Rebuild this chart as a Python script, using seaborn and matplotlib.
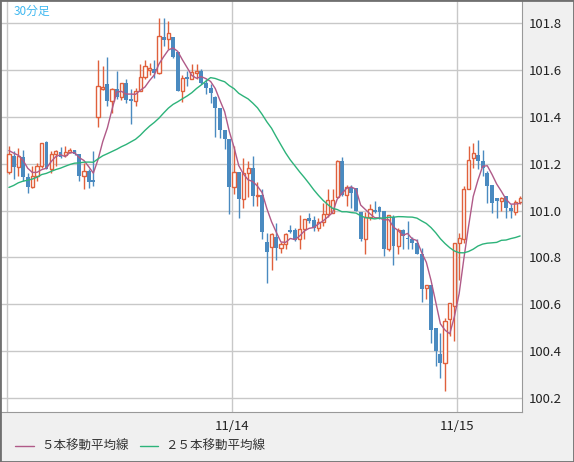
import matplotlib
matplotlib.use("Agg")
import matplotlib.pyplot as plt
import seaborn as sns
import numpy as np
import pandas as pd

# 30-minute OHLC bars
opens = [101.165,101.233,101.186,101.23,101.145,101.10,101.148,101.19,101.294,101.176,
         101.24,101.25,101.235,101.25,101.26,101.243,101.148,101.17,101.13,101.40,
         101.519,101.538,101.467,101.517,101.485,101.545,101.474,101.467,101.512,101.57,
         101.60,101.605,101.585,101.74,101.73,101.74,101.675,101.51,101.57,101.563,
         101.585,101.597,101.545,101.524,101.484,101.438,101.342,101.304,101.10,101.166,
         101.048,101.162,101.18,101.063,101.067,100.868,100.846,100.886,100.839,100.856,
         100.917,100.917,100.877,100.92,100.97,100.958,100.926,100.95,100.987,100.99,
         101.058,101.21,101.068,101.10,101.096,100.993,100.88,100.973,101.004,101.014,
         100.997,100.834,100.973,100.848,100.917,100.884,100.877,100.862,100.813,100.668,
         100.682,100.50,100.388,100.348,100.537,100.593,100.863,100.877,101.092,101.224,
         101.238,101.213,101.16,101.11,101.054,101.04,101.061,101.01,100.994,101.036]
closes = [101.24,101.186,101.233,101.145,101.10,101.148,101.19,101.29,101.176,101.24,
          101.255,101.23,101.25,101.26,101.24,101.148,101.17,101.12,101.12,101.53,
          101.528,101.467,101.517,101.485,101.545,101.47,101.467,101.512,101.57,101.615,
          101.61,101.585,101.746,101.726,101.757,101.655,101.51,101.566,101.56,101.59,
          101.595,101.545,101.524,101.50,101.438,101.342,101.304,101.10,101.166,101.048,
          101.162,101.18,101.063,101.067,100.908,100.824,100.90,100.842,100.856,100.90,
          100.908,100.874,100.922,100.962,100.955,100.926,100.95,100.987,101.047,101.047,
          101.213,101.068,101.10,101.075,100.998,100.877,100.973,101.007,100.993,100.993,
          100.834,100.979,100.848,100.919,100.89,100.877,100.862,100.813,100.664,100.682,
          100.491,100.40,100.348,100.529,100.605,100.863,100.884,101.092,101.217,101.245,
          101.21,101.18,101.104,101.033,101.04,101.054,101.01,101.0,101.036,101.054]
highs = [101.275,101.254,101.268,101.26,101.162,101.19,101.204,101.29,101.297,101.254,
         101.26,101.27,101.275,101.268,101.26,101.243,101.204,101.176,101.254,101.64,
         101.616,101.655,101.524,101.594,101.545,101.56,101.517,101.524,101.623,101.64,
         101.63,101.644,101.82,101.82,101.81,101.74,101.675,101.58,101.594,101.627,
         101.623,101.604,101.56,101.538,101.488,101.438,101.342,101.304,101.275,101.166,
         101.226,101.21,101.233,101.12,101.09,100.904,100.904,100.947,100.868,100.905,
         100.94,100.927,100.983,100.962,100.99,100.976,100.97,101.033,101.09,101.09,
         101.217,101.23,101.107,101.107,101.096,100.993,100.993,101.026,101.04,101.018,
         100.997,100.983,100.983,100.926,100.922,100.955,100.887,100.88,100.841,100.682,
         100.682,100.50,100.476,100.543,100.605,100.863,100.905,101.104,101.274,101.29,
         101.30,101.26,101.167,101.11,101.054,101.06,101.064,101.026,101.047,101.064]
lows = [101.155,101.134,101.148,101.126,101.077,101.098,101.126,101.18,101.176,101.16,
        101.19,101.225,101.23,101.245,101.235,101.126,101.09,101.098,101.105,101.356,
        101.516,101.445,101.417,101.474,101.47,101.46,101.368,101.448,101.51,101.56,
        101.58,101.566,101.583,101.70,101.687,101.65,101.51,101.462,101.53,101.559,
        101.56,101.538,101.495,101.46,101.315,101.31,101.264,100.985,101.07,100.97,
        101.01,101.06,101.02,101.02,100.88,100.69,100.745,100.788,100.817,100.834,
        100.905,100.87,100.837,100.877,100.948,100.912,100.912,100.933,100.973,100.99,
        101.058,101.064,101.02,101.01,100.998,100.87,100.813,100.96,100.99,100.962,
        100.806,100.827,100.766,100.813,100.834,100.834,100.834,100.813,100.612,100.621,
        100.434,100.338,100.288,100.232,100.466,100.443,100.706,100.863,101.09,101.18,
        101.177,101.146,101.033,100.99,100.97,101.0,100.97,100.97,100.98,101.026]
# closes before the visible window (needed for the moving averages)
prior_closes = [100.98,100.95,100.97,101.0,101.02,100.99,101.01,101.05,101.03,101.06,101.08,101.05,
                101.07,101.1,101.12,101.09,101.11,101.14,101.17,101.2,101.24,101.28,101.25,101.27]
day_labels = ["", "11/14", "11/15"]  # 11/13 line is at the very left edge, label not shown
yticks = [100.2, 100.4, 100.6, 100.8, 101.0, 101.2, 101.4, 101.6, 101.8]

n = len(closes)
allc = pd.Series(prior_closes + closes)
ma5 = allc.rolling(5).mean().iloc[len(prior_closes):].to_numpy()
ma25 = allc.rolling(25).mean().iloc[len(prior_closes):].to_numpy()
df = pd.DataFrame({"i": np.arange(n), "o": opens, "c": closes, "h": highs, "l": lows,
                   "ma5": ma5, "ma25": ma25})

sns.set_style("white")
plt.rcParams["font.family"] = ["Noto Sans CJK JP", "DejaVu Sans"]

red = "#e0603c"
blue = "#4a8ac0"
c5 = "#b05a88"
c25 = "#2db37a"

fig = plt.figure(figsize=(5.74, 4.62), dpi=100, facecolor="#f0f0f0")
ax = fig.add_axes([0, 50/462, 522/574, 412/462])
ax.set_facecolor("white")

up = df[df.c >= df.o]
dn = df[df.c < df.o]
ax.vlines(df.i, df.l, df.h, color=[red if c >= o else blue for o, c in zip(df.o, df.c)],
          lw=1, zorder=3)
ax.bar(dn.i, dn.o - dn.c, bottom=dn.c, width=0.82, color=blue, lw=0, zorder=4)
ax.bar(up.i, np.maximum(up.c - up.o, 0.004), bottom=up.o, width=0.68, facecolor="white",
       edgecolor=red, lw=1, zorder=4)

sns.lineplot(data=df, x="i", y="ma5", ax=ax, color=c5, lw=1, zorder=5)
sns.lineplot(data=df, x="i", y="ma25", ax=ax, color=c25, lw=1, zorder=5)

ax.set_xlim(-1.9, 109.4)
ax.set_ylim(100.141, 101.898)
ax.set_xticks([-0.45 + 48 * k for k in range(3)])
ax.set_xticklabels(day_labels)
ax.set_yticks(yticks)
ax.set_yticklabels([f"{v:.1f}" for v in yticks])
ax.yaxis.tick_right()
ax.tick_params(axis="both", length=0, labelsize=9.5, colors="#222222", pad=5)
ax.tick_params(axis="x", pad=6)
ax.grid(True, color="#c8c8c8", lw=1)
ax.set_axisbelow(True)
ax.set_xlabel("")
ax.set_ylabel("")
for s in ["left", "top"]:
    ax.spines[s].set_visible(False)
for s in ["right", "bottom"]:
    ax.spines[s].set_color("#999999")

ax.text(14/522, 1 - 11/412, "30分足", transform=ax.transAxes, color="#40b8f0",
        fontsize=8.5, va="center")

# legend at the bottom
fig.lines.append(plt.Line2D([15/574, 34/574], [1 - 446/462] * 2, color=c5, lw=1,
                            transform=fig.transFigure))
fig.text(41/574, 1 - 446/462, "５本移動平均線", fontsize=9, va="center", color="#333333")
fig.lines.append(plt.Line2D([140/574, 158/574], [1 - 446/462] * 2, color=c25, lw=1,
                            transform=fig.transFigure))
fig.text(165/574, 1 - 446/462, "２５本移動平均線", fontsize=9, va="center", color="#333333")
fig.patches.append(plt.Rectangle((0, 0), 1, 1, transform=fig.transFigure, fill=False,
                                 edgecolor="#707070", lw=2))

fig.savefig("out.png", dpi=100, facecolor=fig.get_facecolor())
